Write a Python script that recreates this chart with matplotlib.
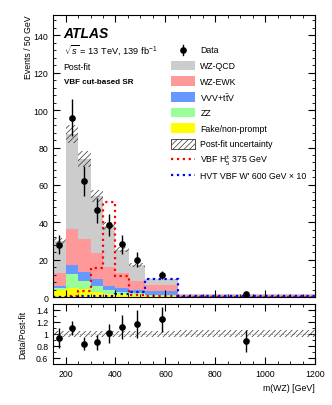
import matplotlib
matplotlib.use('Agg')
import matplotlib.pyplot as plt
import numpy as np
from matplotlib.patches import Rectangle
from matplotlib.lines import Line2D
from matplotlib.ticker import AutoMinorLocator, MultipleLocator, FixedLocator

plt.rcParams['font.family'] = ['Liberation Sans', 'DejaVu Sans']
plt.rcParams['mathtext.fontset'] = 'custom'
plt.rcParams['mathtext.rm'] = 'Liberation Sans'
plt.rcParams['mathtext.it'] = 'Liberation Sans:italic'
plt.rcParams['hatch.linewidth'] = 0.5

# bin edges in m(WZ) [GeV]
edges = [150, 200, 250, 300, 350, 400, 455, 520, 650, 1200]

# post-fit backgrounds (events / 50 GeV), stacked from bottom
fake = [4.0, 5.0, 4.4, 2.8, 1.7, 1.5, 1.0, 0.5, 0.05]
zz = [1.0, 7.3, 4.1, 3.0, 1.8, 1.3, 1.0, 0.6, 0.1]
vvv = [0.8, 4.6, 5.0, 3.6, 2.3, 2.0, 2.0, 2.2, 0.3]
wz_ewk = [7.2, 19.5, 17.4, 14.0, 10.4, 8.0, 4.5, 3.2, 0.6]
wz_qcd = [17.0, 50.6, 43.0, 30.6, 21.8, 12.5, 8.5, 3.0, 0.65]
postfit_unc = [1.65, 4.8, 4.1, 3.0, 2.1, 1.4, 0.95, 0.52, 0.1]

# data
data = [28, 96, 62, 46.5, 38.5, 28.2, 19.9, 11.8, 1.5]
data_err = [5.0, 10.0, 7.9, 6.7, 6.0, 5.0, 4.0, 2.0, 0.32]

# signals
h5_375 = [0.2, 0.5, 3.0, 15.7, 51.0, 11.2, 1.2, 0.3, 0.1]
hvt_600 = [0.2, 0.2, 0.3, 0.4, 0.7, 1.8, 2.5, 9.4, 0.4]

edges = np.array(edges)
centers = 0.5 * (edges[1:] + edges[:-1])
fs = 6.3

fig = plt.figure(figsize=(3.32, 4.06), dpi=100)
ax = fig.add_axes([0.160, 0.266, 0.789, 0.695])
rax = fig.add_axes([0.160, 0.101, 0.789, 0.148])

comps = [(fake, '#ffff00', 'Fake/non-prompt'),
         (zz, '#99ff99', 'ZZ'),
         (vvv, '#6699ff', 'VVV+t$\\bar{\\mathrm{t}}$V'),
         (wz_ewk, '#ff9999', 'WZ-EWK'),
         (wz_qcd, '#cccccc', 'WZ-QCD')]

bottom = np.zeros(len(centers))
for vals, col, lab in comps:
    top = bottom + np.array(vals)
    ax.stairs(top, edges, baseline=bottom, fill=True, color=col, lw=0)
    bottom = top
total = bottom

unc = np.array(postfit_unc)
ax.stairs(total + unc, edges, baseline=total - unc, fill=True, facecolor='none',
          edgecolor='#333333', hatch='//////', lw=0)

ax.stairs(h5_375, edges, color='red', ls=':', lw=1.6)
ax.stairs(hvt_600, edges, color='blue', ls=':', lw=1.6)

ax.errorbar(centers, data, yerr=data_err, fmt='o', color='black', ms=3.8,
            elinewidth=1.0, capsize=0)

ax.set_xlim(150, 1200)
ax.set_ylim(0, 151)
ax.set_ylabel('Events / 50 GeV', fontsize=fs, loc='top')
ax.yaxis.set_major_locator(MultipleLocator(20))
ax.yaxis.set_minor_locator(AutoMinorLocator(5))
ax.xaxis.set_major_locator(MultipleLocator(200))
ax.xaxis.set_minor_locator(MultipleLocator(50))
ax.tick_params(labelbottom=False)

# ratio panel
ratio = np.array(data) / total
ratio_err = np.array(data_err) / total
rel = unc / total
rax.stairs(1 + rel, edges, baseline=1 - rel, fill=True, facecolor='none',
           edgecolor='#333333', hatch='//////', lw=0)
rax.axhline(1.0, color='#888888', ls=':', lw=0.6)
rax.errorbar(centers, ratio, yerr=ratio_err, fmt='o', color='black', ms=3.8,
             elinewidth=1.0, capsize=0)
rax.set_xlim(150, 1200)
rax.set_ylim(0.5, 1.5)
rax.yaxis.set_major_locator(FixedLocator([0.6, 0.8, 1.0, 1.2, 1.4]))
rax.set_yticklabels(['0.6', '0.8', '1', '1.2', '1.4'])
rax.yaxis.set_minor_locator(MultipleLocator(0.1))
rax.xaxis.set_major_locator(MultipleLocator(200))
rax.xaxis.set_minor_locator(MultipleLocator(50))
rax.set_ylabel('Data/Post-fit', fontsize=fs)
rax.set_xlabel('m(WZ) [GeV]', fontsize=fs, loc='right')

for a in (ax, rax):
    a.tick_params(which='both', direction='in', top=True, right=True, labelsize=fs)
    a.tick_params(which='major', length=5)
    a.tick_params(which='minor', length=2.5)
ax.yaxis.set_label_coords(-0.076, 1.0)
rax.yaxis.set_label_coords(-0.097, 0.5)

# labels
ax.text(0.04, 0.962, 'ATLAS', transform=ax.transAxes, fontsize=10,
        fontweight='bold', fontstyle='italic', va='top')
ax.text(0.04, 0.905, '$\\sqrt{s}$ = 13 TeV, 139 fb$^{-1}$', transform=ax.transAxes,
        fontsize=fs + 0.4, va='top')
ax.text(0.04, 0.832, 'Post-fit', transform=ax.transAxes, fontsize=fs, va='top')
ax.text(0.04, 0.777, 'VBF cut-based SR', transform=ax.transAxes, fontsize=5.8,
        fontweight='bold', va='top')

# legend, laid out by hand so rows are evenly spaced
leg_x0, leg_x1, leg_tx = 0.450, 0.542, 0.562
leg_y0, leg_dy, box_h = 0.876, 0.0555, 0.034
entries = [('data', None, 'Data')]
for vals, col, lab in reversed(comps):
    entries.append(('patch', col, lab))
entries.append(('hatch', None, 'Post-fit uncertainty'))
entries.append(('line', 'red', 'VBF H$_5^{\\pm}$ 375 GeV'))
entries.append(('line', 'blue', 'HVT VBF W\' 600 GeV \u00d7 10'))

for i, (kind, col, lab) in enumerate(entries):
    y = leg_y0 - i * leg_dy
    xm = 0.5 * (leg_x0 + leg_x1)
    if kind == 'data':
        ax.add_line(Line2D([xm, xm], [y - box_h / 2, y + box_h / 2], color='black',
                           lw=1.0, transform=ax.transAxes))
        ax.add_line(Line2D([xm], [y], marker='o', color='black', ms=3.8,
                           transform=ax.transAxes))
    elif kind == 'patch':
        ax.add_patch(Rectangle((leg_x0, y - box_h / 2), leg_x1 - leg_x0, box_h,
                               facecolor=col, edgecolor='none', transform=ax.transAxes))
    elif kind == 'hatch':
        ax.add_patch(Rectangle((leg_x0, y - box_h / 2), leg_x1 - leg_x0, box_h,
                               facecolor='white', edgecolor='#333333', hatch='//////',
                               lw=0.6, transform=ax.transAxes))
    else:
        ax.add_line(Line2D([leg_x0, leg_x1], [y, y], color=col, ls=':', lw=1.6,
                           transform=ax.transAxes))
    ax.text(leg_tx, y, lab, transform=ax.transAxes, fontsize=fs, va='center')

fig.savefig('out.png', dpi=100)
